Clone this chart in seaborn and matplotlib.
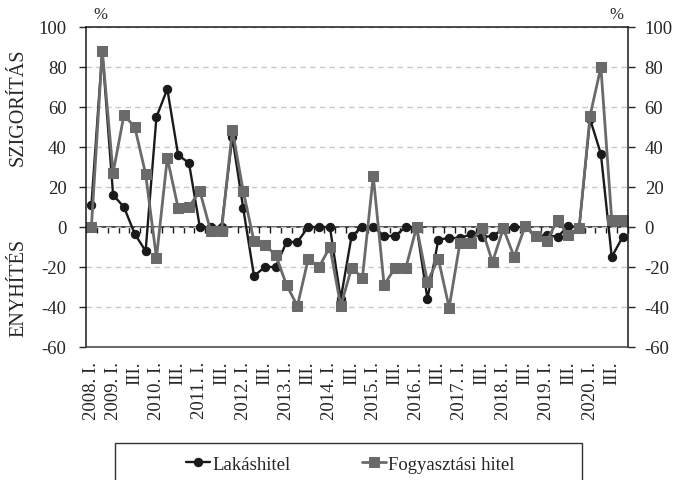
import numpy as np
import pandas as pd
import matplotlib
matplotlib.use("Agg")
import matplotlib.pyplot as plt
import seaborn as sns
from matplotlib.patches import Rectangle

# Negyedéves adatok (2008 - 2020), nettó arány %
lakashitel = [11, 88, 16, 10, -3.5, -12, 55, 69, 36, 32,
              0, 0, 0, 45, 9.5, -24.5, -20, -20, -7.5, -7.5,
              0, 0, 0, -36, -4.5, 0, 0, -4.5, -4.5, 0,
              0, -36, -6.3, -5.5, -5.5, -3.7, -5, -4.5, -1, 0,
              0, -4.5, -4.2, -4.8, 0.3, 0, 54, 36.5, -15, -5]
fogyasztasi = [0, 88, 27, 56, 50, 26.5, -15.5, 34.5, 9.5, 10,
               18, -2, -2, 48.5, 18, -7.2, -9, -14, -29, -39.5,
               -16, -20, -10, -39.5, -20.5, -25.3, 25.5, -29, -20.5, -20.5,
               0, -27.5, -15.8, -40.3, -7.8, -7.8, -0.5, -17.5, -0.7, -15,
               0.3, -4.5, -7.2, 3.6, -4.2, -0.3, 55.6, 80, 3.5, 3.3]
tick_labels = ["2008. I.", "2009. I.", "III.", "2010. I.", "III.", "2011. I.", "III.",
               "2012. I.", "III.", "2013. I.", "III.", "2014. I.", "III.",
               "2015. I.", "III.", "2016. I.", "III.", "2017. I.", "III.",
               "2018. I.", "III.", "2019. I.", "III.", "2020. I.", "III."]
yticks = [-60, -40, -20, 0, 20, 40, 60, 80, 100]

df = pd.DataFrame({"idx": np.arange(len(lakashitel)),
                   "Lakáshitel": lakashitel,
                   "Fogyasztási hitel": fogyasztasi})

sns.set_style("white")
plt.rcParams["font.family"] = ["Liberation Serif", "DejaVu Serif"]
plt.rcParams["axes.unicode_minus"] = False

fig = plt.figure(figsize=(6.73, 4.81), dpi=100)
ax = fig.add_axes([86/673, 1-348/481, (628-86)/673, (348-28)/481])

black = "#1a1a1a"
gray = "#6a6a6a"
sns.lineplot(data=df, x="idx", y="Lakáshitel", ax=ax, color=black, lw=1.7,
             marker="o", markersize=6, markeredgecolor=black, label="Lakáshitel")
sns.lineplot(data=df, x="idx", y="Fogyasztási hitel", ax=ax, color=gray, lw=2,
             marker="s", markersize=6.8, markeredgecolor=gray, label="Fogyasztási hitel")

ax.set_xlim(-0.5, len(lakashitel) - 0.5)
ax.set_ylim(-60, 100)
ax.set_yticks(yticks)
ax.set_xticks(np.arange(0, len(lakashitel), 2))
ax.set_xticklabels(tick_labels, rotation=90, fontsize=13.5)
ax.tick_params(axis="x", length=0, pad=10)
ax.tick_params(axis="y", left=True, direction="out", length=5, width=1,
               labelsize=13.5, pad=9)
ax.set_xlabel("")
ax.set_ylabel("")
ax.yaxis.grid(True, linestyle=(0, (4, 3)), color="#c8c8c8", lw=1)
ax.set_axisbelow(True)
for s in ["top", "left", "right"]:
    ax.spines[s].set_color(black)
    ax.spines[s].set_linewidth(1.1)
ax.spines["bottom"].set_color("#404040")
ax.spines["bottom"].set_linewidth(1.1)

# nulla vonal kis osztásokkal
sec = ax.secondary_xaxis(60/160)
sec.set_xticks(np.arange(-0.5, len(lakashitel), 1))
sec.set_xticklabels([])
sec.tick_params(length=4.5, width=1, direction="out", color=black)
for s in sec.spines.values():
    s.set_color(black)
    s.set_linewidth(1.1)

ax2 = ax.twinx()
ax2.set_ylim(-60, 100)
ax2.set_yticks(yticks)
ax2.tick_params(axis="y", right=True, direction="out", length=5, width=1,
                labelsize=13.5, pad=7)
for s in ax2.spines.values():
    s.set_visible(False)

ax.get_legend().remove()
h, l = ax.get_legend_handles_labels()
fig.legend(h, l, loc="center", bbox_to_anchor=(350/673, (481-465)/481), ncol=2,
           frameon=False, fontsize=13.5, handlelength=1.3, handletextpad=0.1,
           columnspacing=3.8)
fig.patches.append(Rectangle((115/673, -0.05), 467/673, (481-444)/481 + 0.05,
                             transform=fig.transFigure, fill=False,
                             edgecolor="#333333", lw=1))

fig.text(18.5/673, 1-107/481, "SZIGORÍTÁS", rotation=90, ha="center", va="center", fontsize=14.5)
fig.text(18.5/673, 1-288/481, "ENYHÍTÉS", rotation=90, ha="center", va="center", fontsize=14.5)
fig.text(100/673, 1-15/481, "%", ha="center", va="center", fontsize=12)
fig.text(616/673, 1-15/481, "%", ha="center", va="center", fontsize=12)

fig.savefig("out.png", dpi=100)
